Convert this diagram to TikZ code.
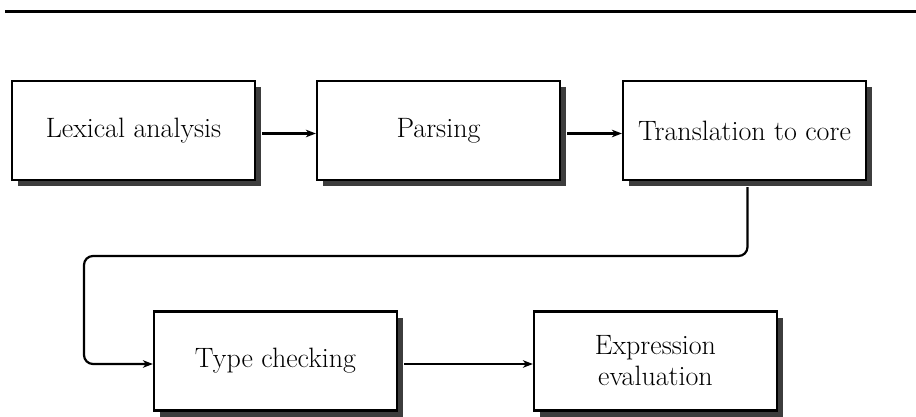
\documentclass[tikz,border=0pt]{standalone}
\usetikzlibrary{shadows,arrows.meta,calc}
\tikzset{
  stagebox/.style={draw=black, line width=2.2pt, fill=white,
    minimum width=243pt, minimum height=99pt, inner sep=0pt,
    align=center, font=\fontsize{28}{31}\selectfont,
    drop shadow={shadow xshift=6pt, shadow yshift=-6pt, fill=black!76, opacity=1}},
  flow/.style={line width=2.2pt, -{Stealth[length=10pt,width=7.5pt,inset=3pt]}},
  rule/.style={line width=3.2pt}
}
\begin{document}
\begin{tikzpicture}[x=1pt,y=-1pt]
\useasboundingbox (0,0) rectangle (916,417);
\coordinate (ruleL) at (5,11.5);
\coordinate (ruleR) at (916,11.5);
\draw[rule] (ruleL) -- (ruleR);
\node[stagebox] (lex) at (133.5,130.5) {Lexical analysis};
\node[stagebox] (parse) at (438.5,130.5) {Parsing};
\node[stagebox] (core) at (744.5,130.5) {Translation to core};
\node[stagebox] (type) at (275.5,361) {Type checking};
\node[stagebox] (eval) at (655.5,361) {Expression\\evaluation};
\coordinate (loopL) at (84,256);
\draw[flow] ($(lex.east)+(6,3)$) -- ($(parse.west)+(0,3)$);
\draw[flow] ($(parse.east)+(6,3)$) -- ($(core.west)+(0,3)$);
\draw[flow, rounded corners=9pt] ($(core.south)+(3,6)$) |- (loopL) |- ($(type.west)+(0,3)$);
\draw[flow] ($(type.east)+(6,3)$) -- ($(eval.west)+(0,3)$);
\end{tikzpicture}
\end{document}
